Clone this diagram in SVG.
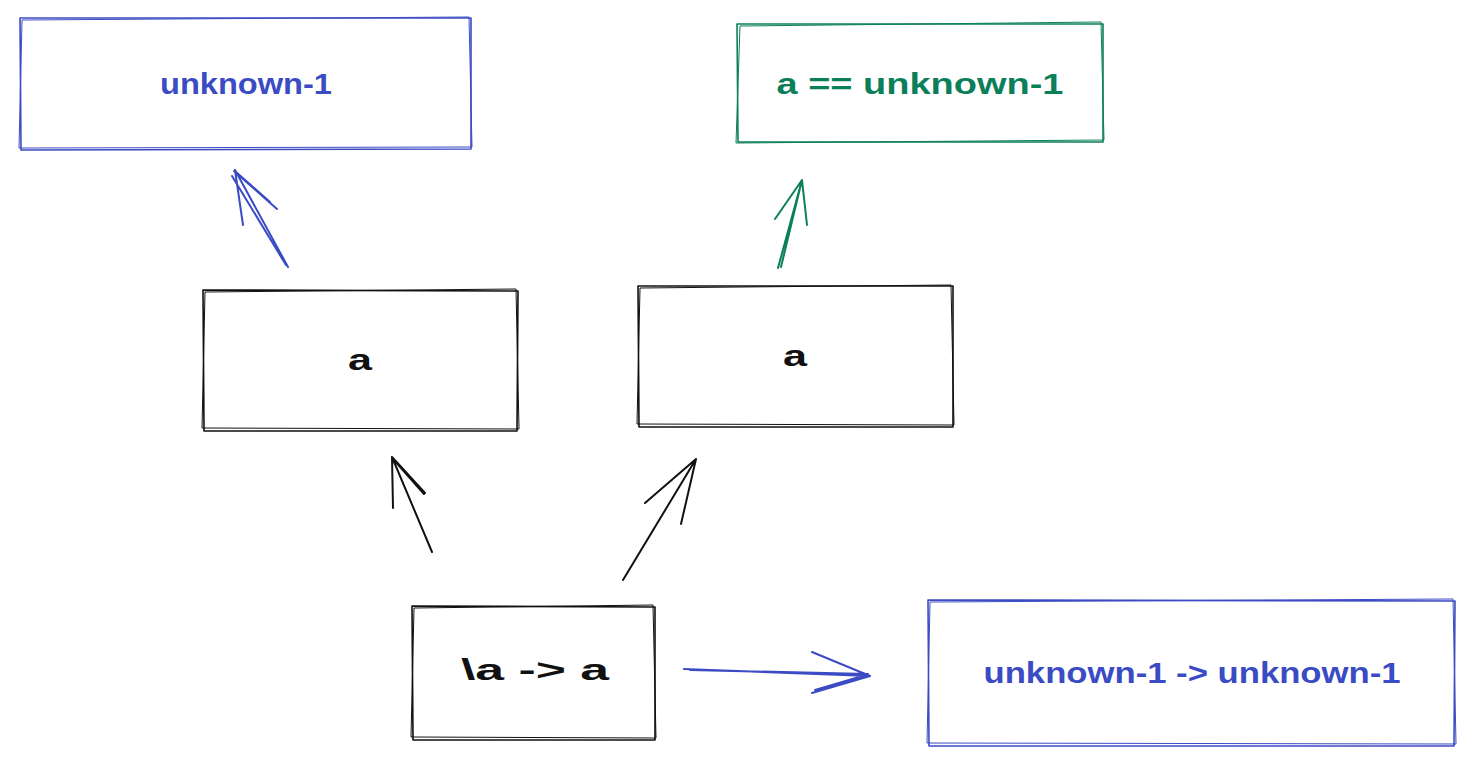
<svg xmlns="http://www.w3.org/2000/svg" width="1475" height="766" viewBox="0 0 1475 766">
<style>
.box{fill:none;stroke-width:1.6;stroke-linejoin:round}
.box2{fill:none;stroke-width:1;stroke-linejoin:round}
.blue{stroke:#3b4bc4}
.green{stroke:#0b7f5a}
.black{stroke:#111}
.t{font-family:"Liberation Sans",Arial,sans-serif;font-size:29px;font-weight:bold;text-anchor:middle}
.tb{fill:#3b4bc4}
.tg{fill:#0b7f5a}
.tk{fill:#111}
.arr{fill:none;stroke-width:2;stroke-linecap:round;stroke-linejoin:round}
</style>
<rect width="1475" height="766" fill="#fff"/>
<g id="node-unknown1">
<path class="box blue" d="M20 18 L471 18 L471 149 L21 150 Z"/>
<path class="box2 blue" d="M22 20 L469 17 L472 147 L19 148 Z"/>
<text class="t tb" x="246" y="94" textLength="172" lengthAdjust="spacingAndGlyphs">unknown-1</text>
</g>
<g id="node-eq">
<path class="box green" d="M737 24 L1103 24 L1103 142 L738 142 Z"/>
<path class="box2 green" d="M740 26 L1101 22 L1104 140 L736 143 Z"/>
<text class="t tg" x="920" y="94" textLength="287" lengthAdjust="spacingAndGlyphs">a == unknown-1</text>
</g>
<g id="node-a-left">
<path class="box black" d="M203 290 L518 291 L517 431 L204 431 Z"/>
<path class="box2 black" d="M205 292 L516 289 L519 429 L202 428 Z"/>
<text class="t tk" x="360" y="370" textLength="24" lengthAdjust="spacingAndGlyphs">a</text>
</g>
<g id="node-a-right">
<path class="box black" d="M638 286 L953 286 L953 427 L639 427 Z"/>
<path class="box2 black" d="M640 288 L951 285 L954 425 L637 424 Z"/>
<text class="t tk" x="795" y="366" textLength="24" lengthAdjust="spacingAndGlyphs">a</text>
</g>
<g id="node-lambda">
<path class="box black" d="M412 606 L655 607 L655 740 L413 740 Z"/>
<path class="box2 black" d="M414 608 L653 605 L656 738 L411 737 Z"/>
<text class="t tk" x="535" y="680" textLength="148" lengthAdjust="spacingAndGlyphs">\a -&gt; a</text>
</g>
<g id="node-fn">
<path class="box blue" d="M928 600 L1455 601 L1454 746 L929 746 Z"/>
<path class="box2 blue" d="M930 602 L1453 599 L1456 744 L927 743 Z"/>
<text class="t tb" x="1192" y="683" textLength="417" lengthAdjust="spacingAndGlyphs">unknown-1 -&gt; unknown-1</text>
</g>
<g id="connectors">
<path class="arr blue" d="M288 267 L235 170 M234 171 L277 209 M235 170 L243 225 M286 265 L232 176 M236 172 L270 202"/>
<path class="arr green" d="M778 268 L802 180 M802 180 L775 219 M802 180 L807 225 M781 267 L801 184"/>
<path class="arr black" d="M432 552 L392 457 M392 457 L393 508 M392 457 L425 493 M394 460 L424 494"/>
<path class="arr black" d="M623 580 L696 459 M696 459 L645 503 M696 459 L681 524"/>
<path class="arr blue" d="M684 669 L870 676 M870 676 L812 652 M870 676 L812 693 M690 670 L868 674 M866 675 L815 690"/>
</g>
</svg>
